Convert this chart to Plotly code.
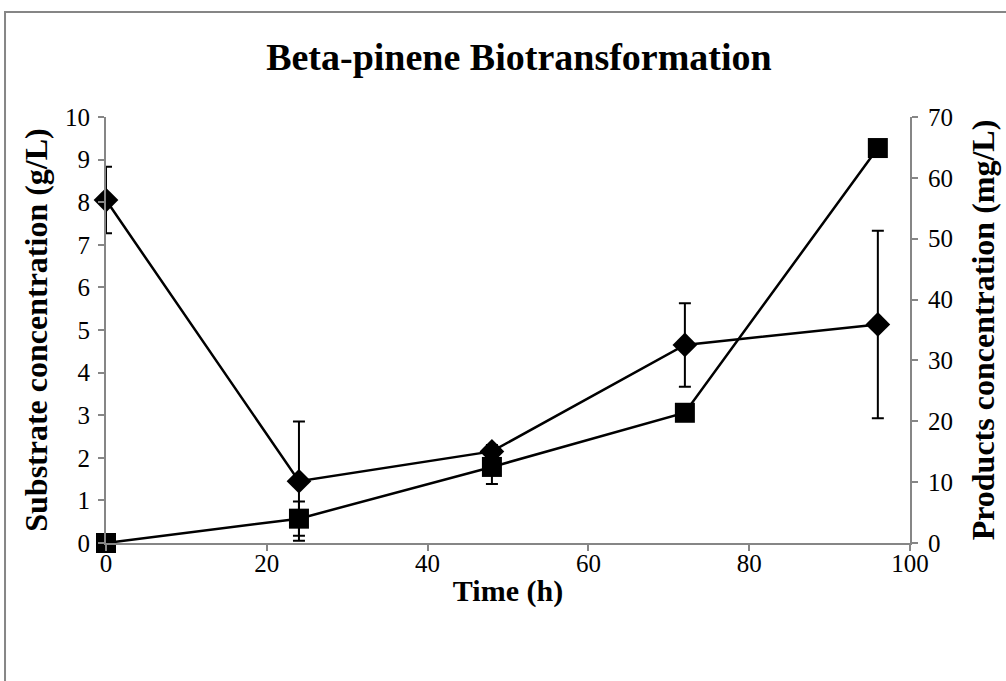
import plotly.graph_objects as go

# Sampling times (h)
time_h = [0, 24, 48, 72, 96]

# Substrate (beta-pinene) concentration, g/L, with standard deviation
substrate = [8.05, 1.45, 2.15, 4.65, 5.13]
substrate_sd = [0.78, 1.40, 0.15, 0.98, 2.20]

# Products concentration, mg/L, with standard deviation
products = [0.0, 4.0, 12.5, 21.4, 64.9]
products_sd = [0.0, 2.8, 2.8, 0.4, 0.4]

FONT = "Liberation Serif, Times New Roman, serif"
AXIS_GRAY = "#868686"

fig = go.Figure()

fig.add_trace(go.Scatter(
    x=time_h, y=substrate, mode="lines+markers", name="Substrate",
    line=dict(color="black", width=2.5),
    marker=dict(symbol="diamond", size=19, color="black"),
    error_y=dict(type="data", array=substrate_sd, visible=True,
                 color="black", thickness=2, width=6),
    cliponaxis=False, yaxis="y",
))

fig.add_trace(go.Scatter(
    x=time_h, y=products, mode="lines+markers", name="Products",
    line=dict(color="black", width=2.5),
    marker=dict(symbol="square", size=20, color="black"),
    error_y=dict(type="data", array=products_sd, visible=True,
                 color="black", thickness=2, width=6),
    cliponaxis=False, yaxis="y2",
))

# Chart-area frame
fig.add_shape(type="rect", xref="paper", yref="paper",
              x0=-0.1256, x1=1.3, y0=-0.4, y1=1.2465,
              line=dict(color=AXIS_GRAY, width=2), layer="below")

fig.update_layout(
    width=1006, height=681,
    margin=dict(l=106, r=96, t=117, b=138),
    paper_bgcolor="white", plot_bgcolor="white",
    showlegend=False,
    font=dict(family=FONT, color="black", size=25),
    title=dict(text="<b>Beta-pinene Biotransformation</b>",
               x=0.5136, xref="paper", xanchor="center",
               y=1 - 57 / 681, yanchor="middle",
               font=dict(family=FONT, size=38, color="black")),
    xaxis=dict(range=[0, 100], tickvals=[0, 20, 40, 60, 80, 100],
               showgrid=False, zeroline=False, automargin=False,
               showline=True, linecolor=AXIS_GRAY, linewidth=2,
               ticks="outside", ticklen=6, tickcolor=AXIS_GRAY, tickwidth=1.5,
               ticklabelstandoff=-9,
               tickfont=dict(family=FONT, size=25),
               title=dict(text="<b>Time (h)</b>", standoff=4,
                          font=dict(family=FONT, size=30))),
    yaxis=dict(range=[0, 10], dtick=1,
               showgrid=False, zeroline=False, automargin=False,
               showline=True, linecolor=AXIS_GRAY, linewidth=2,
               ticks="outside", ticklen=6, tickcolor=AXIS_GRAY, tickwidth=1.5,
               ticklabelstandoff=3,
               tickfont=dict(family=FONT, size=25),
               title=dict(text="<b>Substrate concentration (g/L)</b>", standoff=8,
                          font=dict(family=FONT, size=32))),
    yaxis2=dict(range=[0, 70], dtick=10, overlaying="y", side="right",
                showgrid=False, zeroline=False, automargin=False,
                showline=True, linecolor=AXIS_GRAY, linewidth=2,
                ticks="outside", ticklen=6, tickcolor=AXIS_GRAY, tickwidth=1.5,
                ticklabelstandoff=5,
                tickfont=dict(family=FONT, size=25),
                title=dict(text="<b>Products concentration (mg/L)</b>", standoff=20,
                           font=dict(family=FONT, size=32))),
)

fig.write_html("out.html")
